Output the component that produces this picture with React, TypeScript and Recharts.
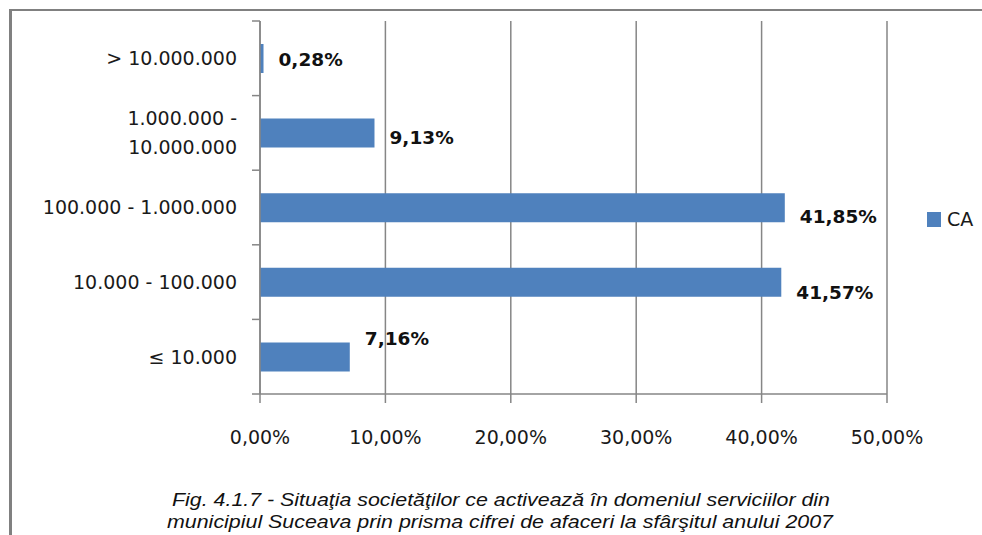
import React from "react";
import { BarChart, Bar, XAxis, YAxis, CartesianGrid, LabelList } from "recharts";

const CATEGORII = [
  "> 10.000.000",
  "1.000.000 - 10.000.000",
  "100.000 - 1.000.000",
  "10.000 - 100.000",
  "≤ 10.000",
];
const VALORI_CA = [0.28, 9.13, 41.85, 41.57, 7.16];
const TICKS_X = [0, 10, 20, 30, 40, 50];
const SERIE = "CA";
const TITLU = [
  "Fig. 4.1.7 - Situaţia societăţilor ce activează  în domeniul serviciilor din",
  "municipiul Suceava prin prisma cifrei de afaceri la sfârşitul anului 2007",
];

const date = CATEGORII.map((c, i) => ({ categorie: c, CA: VALORI_CA[i] }));

// geometrie
const W = 982;
const H = 535;
const SUS = 21;
const JOS = 394;
const STANGA = 260;
const DREAPTA = 887;
const BANDA = (JOS - SUS) / CATEGORII.length;
const GRI = "#868686";
const ALBASTRU = "#4F81BD";
const FONT = "'DejaVu Sans', sans-serif";

// deplasari verticale ale etichetelor (asa cum sunt mutate in original)
const ETICHETA_DY = [1, 4, 9, 10, -19];

const pct = (v: number) => v.toFixed(2).replace(".", ",") + "%";

function TickCategorie(props: any) {
  const { y, payload, index } = props;
  const text: string = payload.value;
  const linii = text.length > 20 ? [text.slice(0, text.indexOf("- ") + 1), text.slice(text.indexOf("- ") + 2)] : [text];
  const tx = STANGA - 23;
  const y0 = y - ((linii.length - 1) * 29) / 2;
  return (
    <g>
      <line x1={STANGA - 8} x2={STANGA} y1={y - BANDA / 2} y2={y - BANDA / 2} stroke={GRI} strokeWidth={1.5} />
      {index === CATEGORII.length - 1 && (
        <line x1={STANGA - 8} x2={STANGA} y1={y + BANDA / 2} y2={y + BANDA / 2} stroke={GRI} strokeWidth={1.5} />
      )}
      {linii.map((l, i) => (
        <text key={i} x={tx} y={y0 + i * 29} dy="0.36em" textAnchor="end" fontFamily={FONT} fontSize={19} fill="#1a1a1a">
          {l}
        </text>
      ))}
    </g>
  );
}

function EtichetaValoare(props: any) {
  const { x, y, width, height, value, index } = props;
  return (
    <text
      x={x + width + 15}
      y={y + height / 2 + (ETICHETA_DY[index] ?? 0)}
      dy="0.36em"
      fontFamily={FONT}
      fontWeight="bold"
      fontSize={18.5}
      fill="#111"
    >
      {pct(value)}
    </text>
  );
}

export default function App() {
  return (
    <div style={{ position: "absolute", left: 0, top: 0, width: W, height: H, background: "#fff", overflow: "hidden" }}>
      <div
        style={{
          position: "absolute",
          left: 9,
          top: 9,
          width: W,
          height: H,
          borderTop: "2px solid #808080",
          borderLeft: "3px solid #808080",
        }}
      />
      <BarChart
        width={W}
        height={H}
        data={date}
        layout="vertical"
        margin={{ top: SUS, right: W - DREAPTA, bottom: H - JOS - 40, left: 0 }}
        barSize={29}
        style={{ position: "absolute", left: 0, top: 0 }}
      >
        <CartesianGrid horizontal={false} stroke={GRI} strokeWidth={1.5} />
        <XAxis
          type="number"
          domain={[0, 50]}
          ticks={TICKS_X}
          tickFormatter={pct}
          height={40}
          stroke={GRI}
          strokeWidth={1.5}
          tickSize={9}
          tickMargin={28}
          tick={{ fontFamily: FONT, fontSize: 19, fill: "#1a1a1a" }}
          interval={0}
        />
        <YAxis
          type="category"
          dataKey="categorie"
          width={STANGA}
          stroke={GRI}
          strokeWidth={1.5}
          tickLine={false}
          tick={<TickCategorie />}
          interval={0}
        />
        <Bar dataKey="CA" fill={ALBASTRU} isAnimationActive={false}>
          <LabelList dataKey="CA" content={<EtichetaValoare />} />
        </Bar>
      </BarChart>
      <div
        style={{
          position: "absolute",
          left: 927,
          top: 208,
          display: "flex",
          alignItems: "center",
          fontFamily: FONT,
          fontSize: 19,
          color: "#1a1a1a",
        }}
      >
        <span style={{ width: 14, height: 15, background: ALBASTRU, marginRight: 6, display: "inline-block" }} />
        <span>{SERIE}</span>
      </div>
      <svg width={W} height={H} style={{ position: "absolute", left: 0, top: 0, pointerEvents: "none" }}>
        <text x={172} y={506} textLength={658} lengthAdjust="spacingAndGlyphs" fontFamily="'Liberation Sans', Arial, sans-serif" fontStyle="italic" fontSize={18} fill="#111">
          {TITLU[0]}
        </text>
        <text x={167} y={528} textLength={666} lengthAdjust="spacingAndGlyphs" fontFamily="'Liberation Sans', Arial, sans-serif" fontStyle="italic" fontSize={18} fill="#111">
          {TITLU[1]}
        </text>
      </svg>
    </div>
  );
}
